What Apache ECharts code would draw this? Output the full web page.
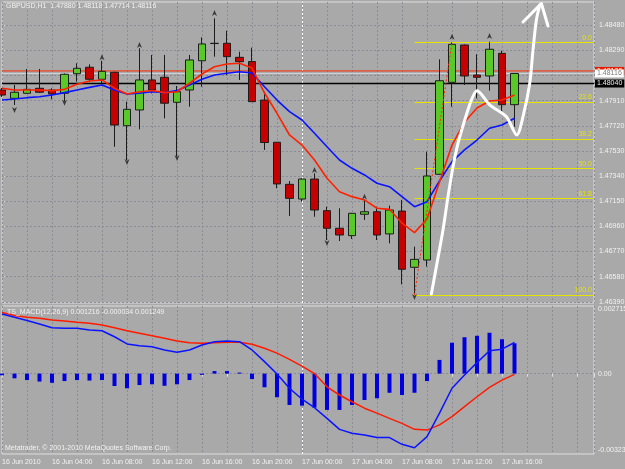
<!DOCTYPE html>
<html><head><meta charset="utf-8">
<script src="https://cdn.jsdelivr.net/npm/echarts@6/dist/echarts.min.js"></script>
<style>html,body{margin:0;padding:0;background:#a9a9a9;}#c{width:625px;height:469px;}</style>
</head><body><div id="c"></div>
<script>
// ---------- data (hourly bars, 16 Jun 2010 00:00 .. 17 Jun 2010 17:00) ----------
const timeLabels = ['16 Jun 2010','16 Jun 04:00','16 Jun 08:00','16 Jun 12:00','16 Jun 16:00','16 Jun 20:00','17 Jun 00:00','17 Jun 04:00','17 Jun 08:00','17 Jun 12:00','17 Jun 16:00'];
const timeLabelBars = [0,4,8,12,16,20,24,28,32,36,40];
const daySeparatorBar = 24;

const opens  = [1.47991,1.47928,1.47966,1.48004,1.47991,1.47966,1.48114,1.48163,1.48072,1.48125,1.47721,1.47840,1.48067,1.48087,1.47898,1.47991,1.48212,1.48342,1.48344,1.48238,1.48206,1.47915,1.47596,1.47278,1.47167,1.47318,1.47079,1.46946,1.46890,1.47052,1.47071,1.46903,1.47076,1.46651,1.46706,1.47354,1.48049,1.48331,1.48104,1.48097,1.48268,1.47880];
const highs  = [1.48006,1.48029,1.48150,1.48150,1.48004,1.48116,1.48193,1.48185,1.48212,1.48129,1.47903,1.48306,1.48256,1.48256,1.48021,1.48256,1.48389,1.48533,1.48439,1.48280,1.48311,1.47978,1.47596,1.47303,1.47324,1.47361,1.47109,1.47097,1.47062,1.47160,1.47109,1.47117,1.47160,1.46807,1.47525,1.48223,1.48352,1.48335,1.48261,1.48356,1.48288,1.48118];
const lows   = [1.47938,1.47878,1.47961,1.47968,1.47921,1.47904,1.48054,1.48054,1.48042,1.47562,1.47462,1.47694,1.47966,1.47777,1.47488,1.47865,1.48016,1.48243,1.48104,1.48067,1.47900,1.47538,1.47248,1.47039,1.47147,1.47033,1.46857,1.46850,1.46865,1.47009,1.46857,1.46832,1.46522,1.46452,1.46656,1.47350,1.47865,1.48029,1.47928,1.47986,1.47815,1.47714];
const closes = [1.47953,1.47974,1.47996,1.47974,1.47961,1.48110,1.48155,1.48072,1.48132,1.47726,1.47845,1.48067,1.47991,1.47891,1.47978,1.48218,1.48339,1.48344,1.48243,1.48205,1.47903,1.47594,1.47281,1.47172,1.47318,1.47084,1.46946,1.46895,1.47059,1.47071,1.46895,1.47084,1.46636,1.46711,1.47341,1.48061,1.48336,1.48097,1.48087,1.48299,1.47880,1.48116];

const maFast = [1.48004,1.47991,1.47991,1.47991,1.47986,1.47996,1.48034,1.48059,1.48067,1.48004,1.47961,1.47978,1.47987,1.47971,1.47978,1.48042,1.48112,1.48167,1.48188,1.48193,1.48157,1.47968,1.47815,1.47651,1.47575,1.47462,1.47324,1.47222,1.47185,1.47160,1.47097,1.47089,1.46984,1.46913,1.47016,1.47296,1.47575,1.47749,1.47855,1.47908,1.47915,1.47953];
const maSlow = [1.47915,1.47923,1.47933,1.47940,1.47953,1.47971,1.47991,1.48011,1.48029,1.47991,1.47961,1.47966,1.47978,1.47971,1.47986,1.48029,1.48072,1.48104,1.48117,1.48129,1.48120,1.48016,1.47915,1.47827,1.47764,1.47664,1.47562,1.47462,1.47399,1.47349,1.47286,1.47260,1.47185,1.47109,1.47147,1.47303,1.47450,1.47538,1.47613,1.47702,1.47726,1.47777];

const fractalUpBars = [8,11,17,25,29,36,39];
const fractalUpPrices = [1.48238,1.48331,1.48573,1.47386,1.47185,1.48394,1.48399];
const fractalDownBars = [1,5,10,14,26,33];
const fractalDownPrices = [1.47840,1.47895,1.47447,1.47477,1.46835,1.46427];

const priceTicks = [1.46390,1.46580,1.46770,1.46960,1.47150,1.47340,1.47530,1.47720,1.47910,1.48100,1.48290,1.48480];
const priceLabelTicks = [1.46390,1.46580,1.46770,1.46960,1.47150,1.47340,1.47530,1.47720,1.47910,1.48290,1.48480];

const fiboLevels = ['0.0','23.6','38.2','50.0','61.8','100.0'];
const fiboPrices = [1.48352,1.47901,1.47622,1.47397,1.47172,1.46442];
const fiboStartBar = 33;
const fiboAnchorBars = [33,36];
const fiboAnchorPrices = [1.46442,1.48352];

const askPrice = 1.48135;
const bidPrice = 1.48116;
const userLinePrice = 1.48040;

const handPathBars   = [34.35,34.75,35.28,35.68,36.08,36.48,37.02,37.55,38.00,39.02,40.35,41.18,41.68,42.22,42.48,42.75,43.02];
const handPathPrices = [1.46449,1.46656,1.46933,1.47185,1.47411,1.47588,1.47764,1.47915,1.47986,1.47878,1.47789,1.47651,1.47789,1.48042,1.48293,1.48520,1.48633];
const handHeadBars   = [41.68,43.15,43.68];
const handHeadPrices = [1.48505,1.48645,1.48475];

const macdHist   = [-0.00007,-0.00019,-0.00026,-0.00032,-0.00037,-0.00030,-0.00026,-0.00028,-0.00026,-0.00050,-0.00059,-0.00046,-0.00043,-0.00049,-0.00043,-0.00026,-0.00005,0.00010,0.00010,0.00004,-0.00022,-0.00055,-0.00095,-0.00126,-0.00129,-0.00137,-0.00146,-0.00146,-0.00126,-0.00106,-0.00099,-0.00077,-0.00086,-0.00077,-0.00030,0.00055,0.00124,0.00146,0.00152,0.00164,0.00138,0.001216];
const macdMain   = [0.00239,0.00226,0.00213,0.00199,0.00184,0.00182,0.00182,0.00175,0.00172,0.00148,0.00119,0.00112,0.00108,0.00095,0.00086,0.00095,0.00115,0.00128,0.00131,0.00128,0.00095,0.00048,-0.00002,-0.00059,-0.00103,-0.00137,-0.00180,-0.00224,-0.00240,-0.00247,-0.00257,-0.00257,-0.00284,-0.00298,-0.00253,-0.00159,-0.00059,-0.00006,0.00044,0.00092,0.00098,0.001249];
const macdSignal = [0.00245,0.00233,0.00226,0.00222,0.00215,0.00211,0.00206,0.00202,0.00195,0.00184,0.00172,0.00162,0.00152,0.00142,0.00131,0.00124,0.00122,0.00124,0.00126,0.00126,0.00118,0.00102,0.00082,0.00057,0.00030,0.00000,-0.00053,-0.00086,-0.00113,-0.00139,-0.00159,-0.00180,-0.00200,-0.00224,-0.00227,-0.00206,-0.00173,-0.00133,-0.00093,-0.00055,-0.00026,-0.000034];
const macdTicks = [-0.00323,0,0.002715];
const macdTickLabels = ['-0.00323','0.00','0.002715'];

const titleText = 'GBPUSD,H1  1.47880 1.48118 1.47714 1.48116';
const macdTitle = 'TS_MACD(12,26,9) 0.001216 -0.000034 0.001249';
const copyright = 'Metatrader, \u00A9 2001-2010 MetaQuotes Software Corp.';

// ---------- chart ----------
const FONT = '"Liberation Sans", Arial, sans-serif';
const TXT = '#f2f2f2';
const GRIDC = '#8c8c96';
const X_MAX = 47.36;
const idx = a => a.map((v, i) => [i, v]);
const zip = (xs, ys) => xs.map((x, i) => [x, ys[i]]);
const hSeg = v => ({coords: [[0, v], [X_MAX, v]]});

const chart = echarts.init(document.getElementById('c'), null, {width: 625, height: 469});

const xBase = {
  type: 'value', min: 0, max: X_MAX, interval: 2,
  axisLine: {show: false},
  splitLine: {show: true, lineStyle: {color: GRIDC, type: [2, 2], width: 1}}
};

function priceLine(price, color, width, z, labelBg, labelColor) {
  return {type: 'line', xAxisIndex: 0, yAxisIndex: 0, z: z, silent: true, clip: false,
    data: [[0, price], [X_MAX, price]], symbol: 'none', showSymbol: false,
    lineStyle: {color: color, width: width},
    endLabel: {show: true, distance: 1, formatter: () => price.toFixed(5),
      backgroundColor: labelBg, color: labelColor, fontSize: 7, fontFamily: FONT,
      padding: [0, 2, 0, 2], lineHeight: 8}};
}

const option = {
  animation: false,
  backgroundColor: '#a9a9a9',
  textStyle: {fontFamily: FONT},
  grid: [
    {left: 2, top: 2, width: 592, height: 301, show: true, borderColor: '#dedede', borderWidth: 1, outerBoundsMode: 'none', containLabel: false},
    {left: 2, top: 306, width: 592, height: 148, show: true, borderColor: '#dedede', borderWidth: 1, outerBoundsMode: 'none', containLabel: false}
  ],
  xAxis: [
    Object.assign({}, xBase, {gridIndex: 0, axisTick: {show: false}, axisLabel: {show: false}}),
    Object.assign({}, xBase, {gridIndex: 1,
      axisTick: {show: true, length: 3, lineStyle: {color: '#dedede'}},
      axisLabel: {show: true, customValues: timeLabelBars, align: 'left', margin: 5,
        fontSize: 7, color: TXT, fontFamily: FONT,
        formatter: v => timeLabels[timeLabelBars.indexOf(v)] || ''}})
  ],
  yAxis: [
    {type: 'value', gridIndex: 0, position: 'right', min: 1.463811, max: 1.486561,
      axisLine: {show: false}, splitLine: {show: false},
      axisTick: {show: true, length: 3, customValues: priceLabelTicks, lineStyle: {color: '#dedede'}},
      axisLabel: {show: true, customValues: priceLabelTicks, margin: 5, fontSize: 7, color: TXT, fontFamily: FONT,
        formatter: v => v.toFixed(5)}},
    {type: 'value', gridIndex: 1, position: 'right', min: -0.00323, max: 0.002715,
      axisLine: {show: false}, splitLine: {show: false},
      axisTick: {show: false},
      axisLabel: {show: true, customValues: macdTicks, margin: 4, fontSize: 7, color: TXT, fontFamily: FONT,
        formatter: v => {
          const k = macdTicks.indexOf(v);
          if (k === 0) return '{b|' + macdTickLabels[k] + '}';
          if (k === 2) return '{t|' + macdTickLabels[k] + '}';
          return macdTickLabels[k] || '';
        },
        rich: {t: {padding: [7, 0, 0, 0], fontSize: 7, color: TXT}, b: {padding: [0, 0, 7, 0], fontSize: 7, color: TXT}}}}
  ],
  graphic: [
    {type: 'text', left: 6, top: 3, z: 100, style: {text: titleText, fill: TXT, font: '7px ' + FONT}},
    {type: 'text', left: 7, top: 309, z: 100, style: {text: macdTitle, fill: TXT, font: '7px ' + FONT}},
    {type: 'text', left: 5, top: 445, z: 100, style: {text: copyright, fill: TXT, font: '7px ' + FONT}}
  ],
  series: [
    // price grid lines
    {type: 'lines', coordinateSystem: 'cartesian2d', xAxisIndex: 0, yAxisIndex: 0, z: 1, silent: true, polyline: false,
      data: priceTicks.map(hSeg), lineStyle: {color: GRIDC, type: [2, 2], width: 1, opacity: 1}},
    // day separator (main)
    {type: 'lines', coordinateSystem: 'cartesian2d', xAxisIndex: 0, yAxisIndex: 0, z: 2, silent: true, polyline: false,
      data: [{coords: [[daySeparatorBar, 1.463811], [daySeparatorBar, 1.486561]]}],
      lineStyle: {color: '#ffffff', type: [2, 2], width: 1, opacity: 1}},
    // ask / bid / user line with right-side price boxes
    priceLine(askPrice, '#ff2a00', 1, 2, '#e81c00', '#ffffff'),
    priceLine(bidPrice, '#d2d2dc', 1, 3, '#ffffff', '#7a7a7a'),
    priceLine(userLinePrice, '#000000', 1.5, 3, '#000000', '#f0f0f0'),
    // candles
    {type: 'candlestick', xAxisIndex: 0, yAxisIndex: 0, z: 5, barWidth: 8,
      data: opens.map((o, i) => [i, o, closes[i], lows[i], highs[i]]),
      itemStyle: {color: '#5ac828', color0: '#c60000', borderColor: '#1c1c1c', borderColor0: '#1c1c1c', borderColorDoji: '#1c1c1c', borderWidth: 1}},
    // moving averages
    {type: 'line', xAxisIndex: 0, yAxisIndex: 0, z: 6, data: idx(maSlow), showSymbol: false, symbol: 'none',
      lineStyle: {color: '#0a14ff', width: 1.6}},
    {type: 'line', xAxisIndex: 0, yAxisIndex: 0, z: 6, data: idx(maFast), showSymbol: false, symbol: 'none',
      lineStyle: {color: '#ff2200', width: 1.6}},
    // fractals
    {type: 'scatter', xAxisIndex: 0, yAxisIndex: 0, z: 7, data: zip(fractalUpBars, fractalUpPrices),
      symbol: 'path://M5,0 L10,10 L5,7 L0,10 Z', symbolSize: [5, 6], itemStyle: {color: '#1e1e1e'}},
    {type: 'scatter', xAxisIndex: 0, yAxisIndex: 0, z: 7, data: zip(fractalDownBars, fractalDownPrices),
      symbol: 'path://M5,0 L10,10 L5,7 L0,10 Z', symbolRotate: 180, symbolSize: [5, 6], itemStyle: {color: '#1e1e1e'}},
    // fibonacci levels
    {type: 'line', xAxisIndex: 0, yAxisIndex: 0, data: [], z: 8, silent: true,
      markLine: {silent: true, symbol: ['none', 'none'],
        lineStyle: {color: '#e4e400', type: 'solid', width: 1},
        label: {show: true, position: 'insideEndTop', distance: [2, 1], color: '#e4e400', fontSize: 7, fontFamily: FONT},
        data: fiboPrices.map((p, k) => [
          {coord: [fiboStartBar, p], label: {formatter: fiboLevels[k]}},
          {coord: [X_MAX, p]}])}},
    // fibo base (dashed red)
    {type: 'line', xAxisIndex: 0, yAxisIndex: 0, z: 8, data: zip(fiboAnchorBars, fiboAnchorPrices), showSymbol: false, symbol: 'none',
      lineStyle: {color: '#ff2a00', type: [2, 2], width: 1}},
    // hand-drawn white arrow
    {type: 'line', xAxisIndex: 0, yAxisIndex: 0, z: 9, data: zip(handPathBars, handPathPrices), showSymbol: false, symbol: 'none', smooth: 0.3,
      lineStyle: {color: '#ffffff', width: 3, cap: 'round', join: 'round'}},
    {type: 'line', xAxisIndex: 0, yAxisIndex: 0, z: 9, data: zip(handHeadBars, handHeadPrices), showSymbol: false, symbol: 'none',
      lineStyle: {color: '#ffffff', width: 3, cap: 'round', join: 'round'}},

    // ---------- MACD panel ----------
    {type: 'lines', coordinateSystem: 'cartesian2d', xAxisIndex: 1, yAxisIndex: 1, z: 1, silent: true, polyline: false,
      data: [{coords: [[0, 0], [X_MAX, 0]]}],
      lineStyle: {color: GRIDC, type: [2, 2], width: 1, opacity: 1}},
    {type: 'lines', coordinateSystem: 'cartesian2d', xAxisIndex: 1, yAxisIndex: 1, z: 2, silent: true, polyline: false,
      data: [{coords: [[daySeparatorBar, -0.00323], [daySeparatorBar, 0.002715]]}],
      lineStyle: {color: '#ffffff', type: [2, 2], width: 1, opacity: 1}},
    {type: 'bar', xAxisIndex: 1, yAxisIndex: 1, z: 4, data: idx(macdHist), barWidth: 4,
      itemStyle: {color: '#0000dc'}},
    {type: 'line', xAxisIndex: 1, yAxisIndex: 1, z: 5, data: idx(macdSignal), showSymbol: false, symbol: 'none',
      lineStyle: {color: '#ff1a00', width: 1.5}},
    {type: 'line', xAxisIndex: 1, yAxisIndex: 1, z: 5, data: idx(macdMain), showSymbol: false, symbol: 'none',
      lineStyle: {color: '#0a14ff', width: 1.5}}
  ]
};
chart.setOption(option);
</script>
</body></html>
